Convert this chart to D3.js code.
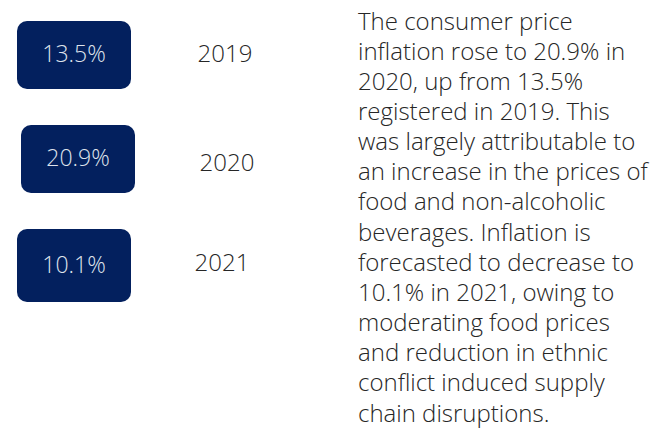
<!DOCTYPE html>
<html>
<head>
<meta charset="utf-8">
<script src="https://cdn.jsdelivr.net/npm/d3@7"></script>
<style>
  body { margin: 0; background: #fff; }
  svg { display: block; font-family: "Open Sans", sans-serif; }
</style>
</head>
<body>
<svg id="chart" width="653" height="430"></svg>
<script>
// data
var years = ["2019", "2020", "2021"];
var inflation = [13.5, 20.9, 10.1];
var note_lines = [
  "The consumer price",
  "inflation rose to 20.9% in",
  "2020, up from 13.5%",
  "registered in 2019. This",
  "was largely attributable to",
  "an increase in the prices of",
  "food and non-alcoholic",
  "beverages. Inflation is",
  "forecasted to decrease to",
  "10.1% in 2021, owing to",
  "moderating food prices",
  "and reduction in ethnic",
  "conflict induced supply",
  "chain disruptions."
];

var navy = "#03205e";
var box_w = 114, box_h = 68;
var box_dx = [0, 4, 0];     // small hand placement offsets seen in the picture
var year_dx = [0, 2, -3];
var year_dy = [41, 46, 42];

var svg = d3.select("#chart");

var y = d3.scalePoint()
  .domain(years)
  .range([21, 229]);

var rows = years.map(function(d, i){
  return {year: d, value: inflation[i], i: i};
});

var g = svg.selectAll("g.row")
  .data(rows)
  .enter().append("g")
  .attr("class", "row")
  .attr("transform", function(d){ return "translate(0," + y(d.year) + ")"; });

g.append("rect")
  .attr("x", function(d){ return 17 + box_dx[d.i]; })
  .attr("y", 0)
  .attr("width", box_w)
  .attr("height", function(d){ return d.i == 2 ? box_h + 5 : box_h; })
  .attr("rx", 10)
  .attr("fill", navy);

g.append("text")
  .attr("x", function(d){ return 17 + box_dx[d.i] + box_w/2; })
  .attr("y", function(d){ return d.i == 2 ? 44 : 41; })
  .attr("text-anchor", "middle")
  .attr("fill", "#dfe3ec")
  .attr("font-size", 23)
  .attr("font-weight", 300)
  .text(function(d){ return d3.format(".1f")(d.value) + "%"; });

g.append("text")
  .attr("x", function(d){ return 225 + year_dx[d.i]; })
  .attr("y", function(d){ return year_dy[d.i]; })
  .attr("text-anchor", "middle")
  .attr("fill", "#262626")
  .attr("font-size", 24)
  .attr("font-weight", 300)
  .text(function(d){ return d.year; });

/* Paragraph on the right */
var line_y = d3.scaleLinear()
  .domain([0, note_lines.length - 1])
  .range([29.5, 421.5]);

svg.append("g")
  .selectAll("text")
  .data(note_lines)
  .enter().append("text")
  .attr("x", 358)
  .attr("y", function(d, i){ return line_y(i); })
  .attr("fill", "#262626")
  .attr("font-size", 24)
  .attr("font-weight", 300)
  .text(function(d){ return d; });
</script>
</body>
</html>
